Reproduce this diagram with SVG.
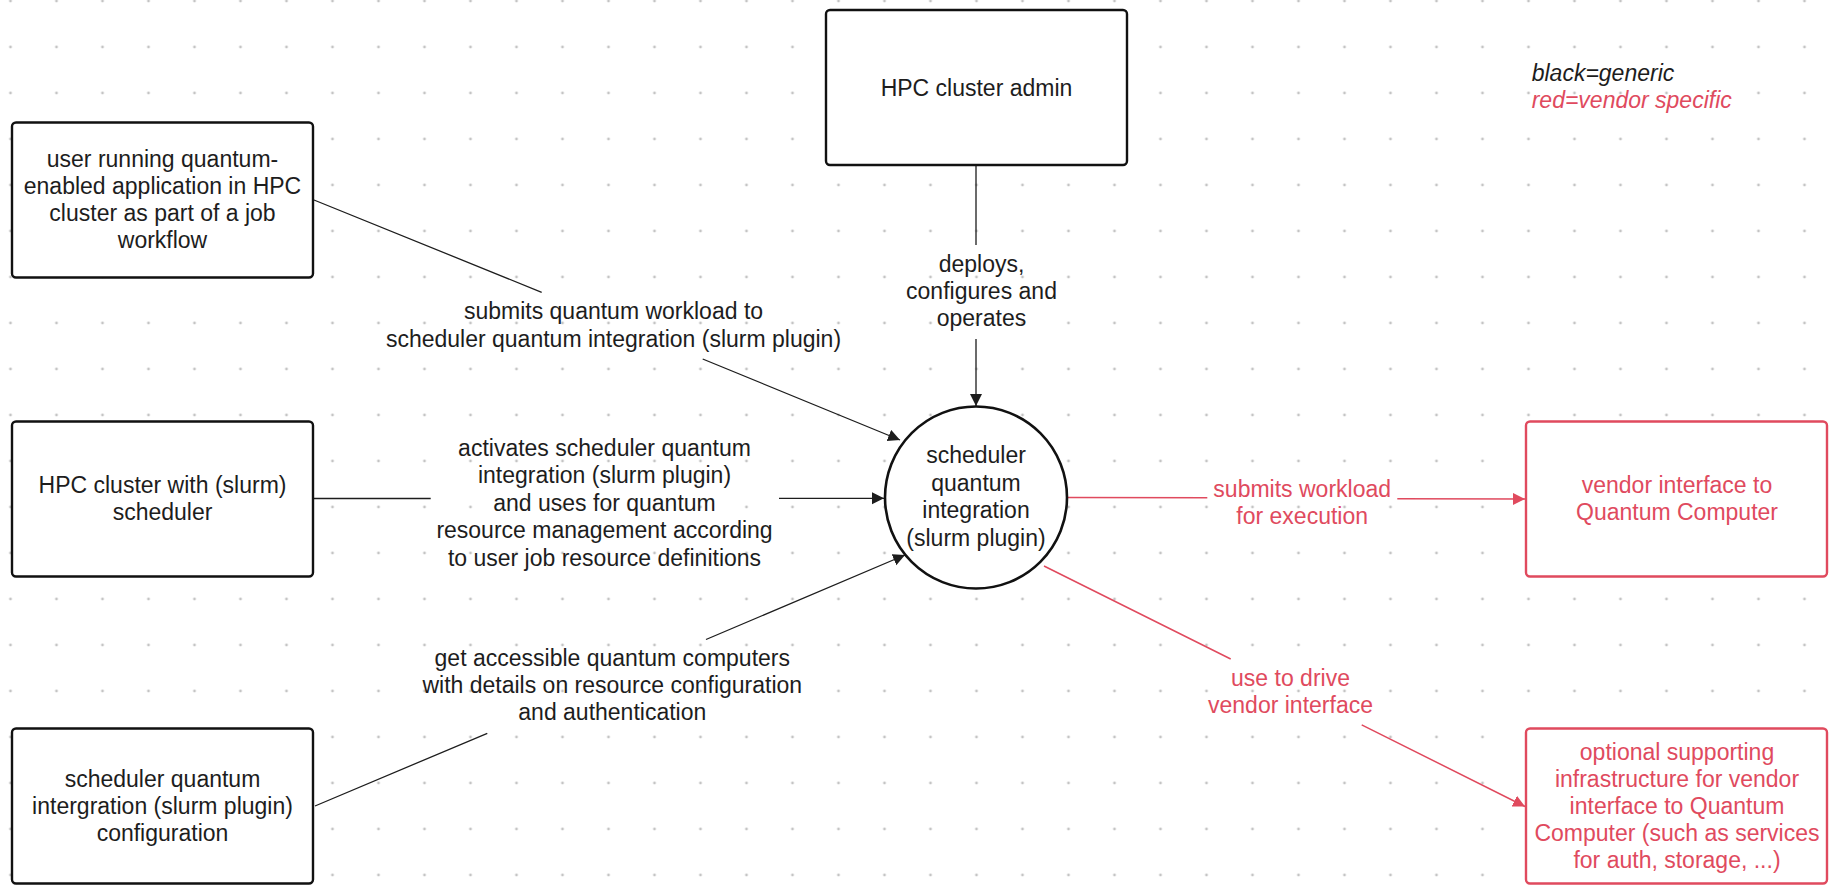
<svg xmlns="http://www.w3.org/2000/svg" width="1840" height="896" viewBox="0 0 1840 896">
  <defs>
    <pattern id="dots" x="10.5" y="1" width="46" height="46" patternUnits="userSpaceOnUse">
      <circle cx="0" cy="0" r="1.4" fill="#c4c4c4"/>
      <circle cx="46" cy="0" r="1.4" fill="#c4c4c4"/>
      <circle cx="0" cy="46" r="1.4" fill="#c4c4c4"/>
      <circle cx="46" cy="46" r="1.4" fill="#c4c4c4"/>
    </pattern>
    <marker id="arrowBlack" markerUnits="userSpaceOnUse" markerWidth="13" markerHeight="13" refX="12" refY="6" orient="auto">
      <path d="M0,0 L12,6 L0,12 z" fill="#1d1d1d"/>
    </marker>
    <marker id="arrowRed" markerUnits="userSpaceOnUse" markerWidth="13" markerHeight="13" refX="12" refY="6" orient="auto">
      <path d="M0,0 L12,6 L0,12 z" fill="#e04a5e"/>
    </marker>
  </defs>
  <style>
    text { font-family: "Liberation Sans", Arial, Helvetica, sans-serif; font-size: 23px; fill: #1d1d1d; text-anchor: middle; }
    .red text, text.red { fill: #e04a5e; }
    .box { fill: #ffffff; stroke: #111111; stroke-width: 2.4; }
    .redbox { fill: #ffffff; stroke: #e04a5e; stroke-width: 2.4; }
    .conn { fill: none; stroke: #1d1d1d; stroke-width: 1.3; }
    .conn-red { fill: none; stroke: #e04a5e; stroke-width: 1.5; }
    .legend { text-anchor: start; font-style: italic; }
  </style>

  <rect x="0" y="0" width="1840" height="896" fill="#ffffff"/>
  <rect x="0" y="0" width="1840" height="896" fill="url(#dots)"/>

  <g id="connectors">
    <path class="conn" d="M314,200 L541.7,292.3 M702.7,359 L900,440" marker-end="url(#arrowBlack)"/>
    <path class="conn" d="M313,498.5 L430.7,498.5 M779,498.3 L884,498.3" marker-end="url(#arrowBlack)"/>
    <path class="conn" d="M315,806 L487.3,733.3 M706,639.5 L905,555" marker-end="url(#arrowBlack)"/>
    <path class="conn" d="M976,165 L976,245 M976,339 L976,406" marker-end="url(#arrowBlack)"/>
    <path class="conn-red" d="M1068,497.6 L1207.3,497.8 M1397.3,498.8 L1525,499" marker-end="url(#arrowRed)"/>
    <path class="conn-red" d="M1044,566 L1230.7,659 M1361.7,724.8 L1525,806.5" marker-end="url(#arrowRed)"/>

    <g id="label-submits">
      <text x="613.5" y="319.3">submits quantum workload to</text>
      <text x="613.5" y="346.7">scheduler quantum integration (slurm plugin)</text>
    </g>
    <g id="label-activates">
      <text x="604.5" y="456">activates scheduler quantum</text>
      <text x="604.5" y="483.3">integration (slurm plugin)</text>
      <text x="604.5" y="510.7">and uses for quantum</text>
      <text x="604.5" y="538.3">resource management according</text>
      <text x="604.5" y="565.7">to user job resource definitions</text>
    </g>
    <g id="label-get">
      <text x="612.3" y="666">get accessible quantum computers</text>
      <text x="612.3" y="693.3">with details on resource configuration</text>
      <text x="612.3" y="720">and authentication</text>
    </g>
    <g id="label-deploys">
      <text x="981.5" y="271.5">deploys,</text>
      <text x="981.5" y="298.5">configures and</text>
      <text x="981.5" y="325.5">operates</text>
    </g>
    <g id="label-submits-workload" class="red">
      <text x="1302.2" y="497.3">submits workload</text>
      <text x="1302.2" y="524.3">for execution</text>
    </g>
    <g id="label-use-to-drive" class="red">
      <text x="1290.5" y="686">use to drive</text>
      <text x="1290.5" y="712.7">vendor interface</text>
    </g>
  </g>

  <g id="node-user">
    <rect class="box" x="12" y="122.5" width="301" height="155" rx="4"/>
    <text x="162.5" y="166.5">user running quantum-</text>
    <text x="162.5" y="193.5">enabled application in HPC</text>
    <text x="162.5" y="220.5">cluster as part of a job</text>
    <text x="162.5" y="247.5">workflow</text>
  </g>

  <g id="node-hpc-scheduler">
    <rect class="box" x="12" y="421.5" width="301" height="155" rx="4"/>
    <text x="162.5" y="493.3">HPC cluster with (slurm)</text>
    <text x="162.5" y="520.3">scheduler</text>
  </g>

  <g id="node-config">
    <rect class="box" x="12" y="728.5" width="301" height="155" rx="4"/>
    <text x="162.5" y="786.5">scheduler quantum</text>
    <text x="162.5" y="813.5">intergration (slurm plugin)</text>
    <text x="162.5" y="840.5">configuration</text>
  </g>

  <g id="node-admin">
    <rect class="box" x="826" y="10" width="301" height="155" rx="4"/>
    <text x="976.5" y="96">HPC cluster admin</text>
  </g>

  <g id="node-plugin">
    <circle cx="976" cy="497.5" r="91" fill="#ffffff" stroke="#111111" stroke-width="2.6"/>
    <text x="976" y="463.3">scheduler</text>
    <text x="976" y="490.8">quantum</text>
    <text x="976" y="518.3">integration</text>
    <text x="976" y="545.8">(slurm plugin)</text>
  </g>

  <g id="node-vendor-interface" class="red">
    <rect class="redbox" x="1526" y="421.5" width="301" height="155" rx="4"/>
    <text x="1677" y="492.7">vendor interface to</text>
    <text x="1677" y="520">Quantum Computer</text>
  </g>

  <g id="node-vendor-infra" class="red">
    <rect class="redbox" x="1526" y="728.5" width="301" height="155" rx="4"/>
    <text x="1677" y="760">optional supporting</text>
    <text x="1677" y="787">infrastructure for vendor</text>
    <text x="1677" y="814">interface to Quantum</text>
    <text x="1677" y="841">Computer (such as services</text>
    <text x="1677" y="868">for auth, storage, ...)</text>
  </g>

  <g id="legend">
    <text class="legend" x="1531.7" y="81">black=generic</text>
    <text class="legend red" x="1531.7" y="108.3">red=vendor specific</text>
  </g>
</svg>
